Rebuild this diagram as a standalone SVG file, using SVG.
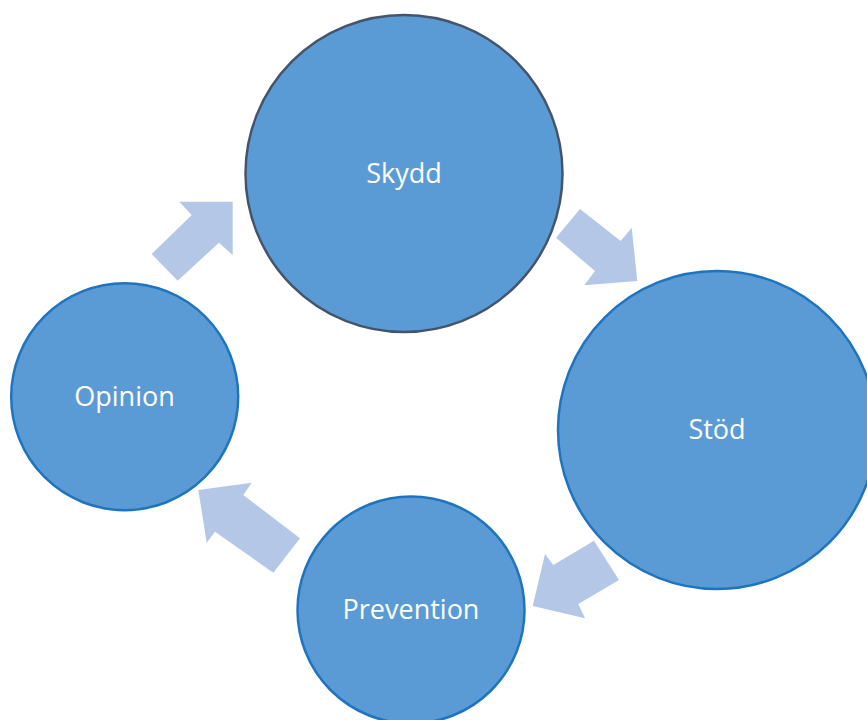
<svg xmlns="http://www.w3.org/2000/svg" width="867" height="720" viewBox="0 0 867 720">
<style>
.node{fill:#5B9BD5;stroke:#1F74BF;stroke-width:2.5}
.dark{stroke:#44546A}
.lbl{fill:#FFFFFF;font-family:"Open Sans","Noto Sans",sans-serif;font-size:27px;text-anchor:middle}
.arr{fill:#B4C7E7}
</style>
<rect width="867" height="720" fill="#FFFFFF"/>
<g id="connectors">
<polygon class="arr" points="179.3,201.7 232.7,201.7 232.7,255 219,242.7 177.7,280.7 151.7,254 191.7,215"/>
<polygon class="arr" points="580,209 620.7,241 631.7,227.7 637.3,281 584.3,285.3 595,271 556,237.7"/>
<polygon class="arr" points="594,540.7 619,580 578.3,604 585,618.3 532.7,606 545,554 553.3,565"/>
<polygon class="arr" points="198.3,490 251.7,482.7 243.3,495 300,538.3 273.3,572.7 215,531.7 206.7,542.7"/>
</g>
<g id="skydd">
<circle class="node dark" cx="404" cy="173.5" r="158.5"/>
<text class="lbl" x="404" y="182.5">Skydd</text>
</g>
<g id="stod">
<circle class="node" cx="717" cy="430" r="159"/>
<text class="lbl" x="717" y="439.3">Stöd</text>
</g>
<g id="prevention">
<circle class="node" cx="411" cy="610" r="113.5"/>
<text class="lbl" x="411" y="619">Prevention</text>
</g>
<g id="opinion">
<circle class="node" cx="124.7" cy="396.7" r="113.5"/>
<text class="lbl" x="124.5" y="405.5">Opinion</text>
</g>
</svg>
